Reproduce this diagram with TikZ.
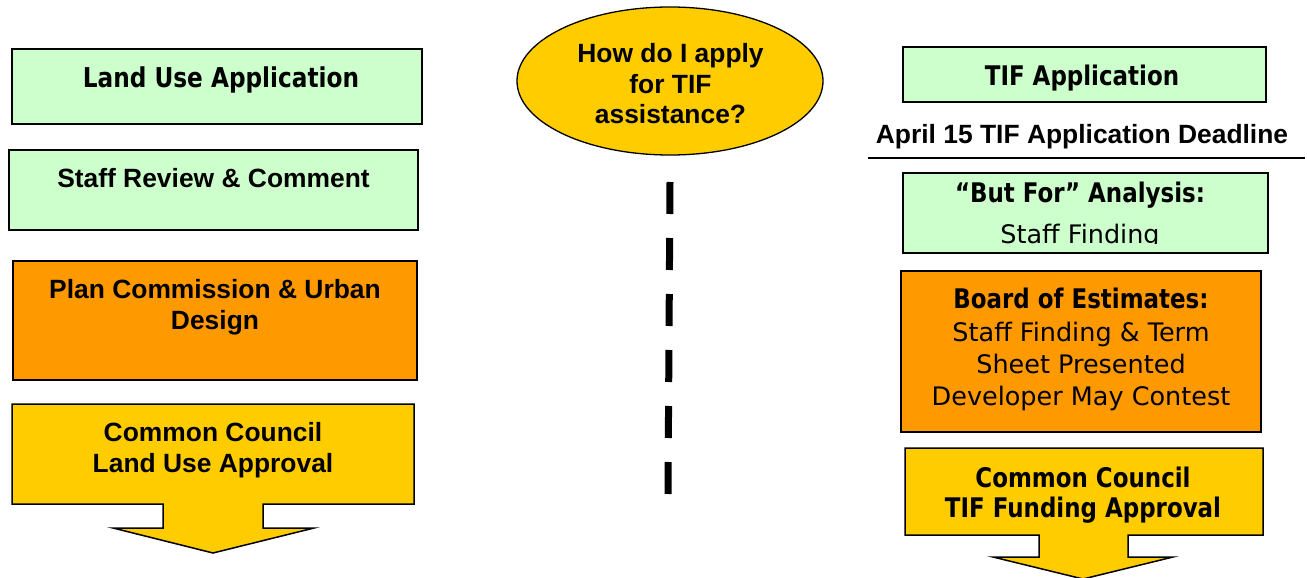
\documentclass[tikz,border=0pt]{standalone}
\usepackage{fontspec}
\setmainfont{Liberation Sans}
\newfontfamily\vfont[FakeStretch=0.85]{DejaVu Sans}
\newfontfamily\vreg{DejaVu Sans}
\usetikzlibrary{shapes.geometric}
\definecolor{boxgreen}{HTML}{CCFFCC}
\definecolor{boxorange}{HTML}{FF9900}
\definecolor{boxyellow}{HTML}{FFCC00}
\begin{document}
\begin{tikzpicture}[x=1pt,y=-1pt,
  box/.style={draw=black, line width=1.5pt, inner sep=0pt, outer sep=0pt, anchor=north west},
  ar/.style={font=\fontsize{26.4}{31}\selectfont\bfseries, anchor=base, inner sep=0pt},
  vb/.style={font=\vfont\fontsize{27}{31}\selectfont\bfseries, anchor=base, inner sep=0pt},
  vr/.style={font=\vreg\fontsize{25.5}{31}\selectfont, anchor=base, inner sep=0pt},
  arrowbox/.style={draw=black, line width=1.5pt, fill=boxyellow, line join=miter}
]
\useasboundingbox (0,0) rectangle (1307,578);

% ---------- left column ----------
\node[box, fill=boxgreen, minimum width=410pt, minimum height=75pt] (lua) at (12,49) {};
\node[box, fill=boxgreen, minimum width=409pt, minimum height=80pt] (srv) at (9,150) {};
\node[box, fill=boxorange, minimum width=404pt, minimum height=119pt] (pcud) at (13,261) {};
\draw[arrowbox] (12,404) -- (414,404) -- (414,504) -- (263,504) -- (263,528) -- (314,528)
  -- (213,553) -- (113,528) -- (163,528) -- (163,504) -- (12,504) -- cycle;

\node[vb, font=\vfont\fontsize{27.3}{31}\selectfont\bfseries] (tlua) at (221,88) {Land Use Application};
\node[ar] (tsrv) at (213.5,187) {Staff Review \& Comment};
\node[ar] (tpc1) at (215,298) {Plan Commission \& Urban};
\node[ar] (tpc2) at (215,329) {Design};
\node[ar] (tcc1) at (213,441) {Common Council};
\node[ar] (tcc2) at (213,472) {Land Use Approval};

% ---------- middle ----------
\node[ellipse, draw=black, line width=1.3pt, fill=boxyellow, minimum width=306pt, minimum height=148pt, inner sep=0pt] (q) at (670,81) {};
\node[ar] (q1) at (670.5,63) {How do I apply};
\node[ar] (q2) at (670.5,94) {for TIF};
\node[ar] (q3) at (670.5,124) {assistance?};
\coordinate (dtop) at (670,182);
\coordinate (dbot) at (668,494);
\draw[line width=7pt, dash pattern=on 32pt off 24pt] (dtop) -- (dbot);

% ---------- right column ----------
\node[box, fill=boxgreen, minimum width=363pt, minimum height=55pt] (tif) at (903,47) {};
\node[vb] (ttif) at (1082,85) {TIF Application};
\node[ar] (apr) at (1082,143) {April 15 TIF Application Deadline};
\coordinate (ls) at (868,158);
\coordinate (le) at (1305,158);
\draw[line width=1.5pt] (ls) -- (le);

\node[box, fill=boxgreen, minimum width=365pt, minimum height=80pt] (bf) at (903,173) {};
\node[vb] (tbf1) at (1080,202) {“But For” Analysis:};
\begin{scope}
  \clip (903,173) rectangle (1268,243);
  \node[vr] (tbf2) at (1080,243) {Staff Finding};
\end{scope}

\node[box, fill=boxorange, minimum width=360pt, minimum height=161pt] (boe) at (901,271) {};
\node[vb] (tb1) at (1081,308) {Board of Estimates:};
\node[vr] (tb2) at (1081,341) {Staff Finding \& Term};
\node[vr] (tb3) at (1081,373) {Sheet Presented};
\node[vr] (tb4) at (1081,405) {Developer May Contest};

\draw[arrowbox] (905,448) -- (1263,448) -- (1263,535) -- (1128,535) -- (1128,557) -- (1173,557)
  -- (1083,579) -- (993,557) -- (1039,557) -- (1039,535) -- (905,535) -- cycle;
\node[vb] (tr1) at (1083,487) {Common Council};
\node[vb] (tr2) at (1083,517) {TIF Funding Approval};
\end{tikzpicture}
\end{document}
